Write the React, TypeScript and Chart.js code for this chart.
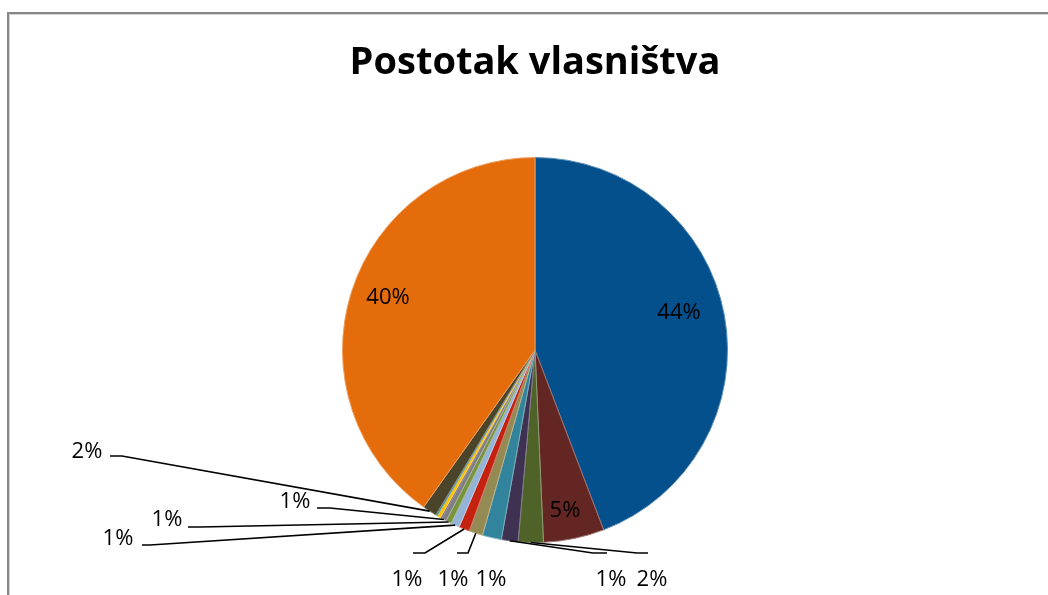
import React, { useEffect, useRef } from "react";
import { Chart, registerables } from "chart.js";

Chart.register(...registerables);

const TITLE = "Postotak vlasništva";

const categories = [
  "Vlasnik 1", "Vlasnik 2", "Vlasnik 3", "Vlasnik 4", "Vlasnik 5",
  "Vlasnik 6", "Vlasnik 7", "Vlasnik 8", "Vlasnik 9", "Vlasnik 10",
  "Vlasnik 11", "Vlasnik 12", "Vlasnik 13", "Vlasnik 14", "Vlasnik 15",
];

const shares = [44.2, 5.1, 2.1, 1.4, 1.6, 1.15, 0.9, 0.72, 0.47, 0.42, 0.12, 0.3, 0.14, 1.2, 40.18];

const dataLabels = ["44%", "5%", "2%", "1%", "1%", "1%", "1%", "1%", "1%", "1%", "", "", "", "2%", "40%"];

const sliceColors = [
  "#03508C", "#632623", "#4F6228", "#3F3151", "#31849B",
  "#948A54", "#C4220F", "#95B3D7", "#77933C", "#7F7F7F",
  "#604A7B", "#FFC000", "#31859C", "#4A452A", "#E46C0A",
];

// label placement (layout only): pixel offsets from the pie centre
const labelLayout: Record<number, { text: [number, number]; elbow?: [number, number]; end?: [number, number] }> = {
  0: { text: [144, -37] },
  1: { text: [30, 161] },
  14: { text: [-147, -52] },
  2: { text: [117, 230], elbow: [102, 203], end: [113, 203] },
  3: { text: [76, 230], elbow: [58, 203], end: [72, 203] },
  4: { text: [-44, 230] },
  5: { text: [-82, 230], elbow: [-67, 203], end: [-78, 203] },
  6: { text: [-128, 230], elbow: [-110, 203], end: [-122, 203] },
  7: { text: [-417, 189], elbow: [-385, 195], end: [-393, 195] },
  8: { text: [-368, 170], elbow: [-335, 177], end: [-347, 177] },
  9: { text: [-240, 152], elbow: [-205, 158], end: [-218, 158] },
  13: { text: [-448, 102], elbow: [-413, 106], end: [-425, 106] },
};

function lighten(hex: string, amt: number) {
  const n = parseInt(hex.slice(1), 16);
  const r = (n >> 16) & 255, g = (n >> 8) & 255, b = n & 255;
  const f = (c: number) => Math.round(c + (255 - c) * amt);
  return `rgb(${f(r)},${f(g)},${f(b)})`;
}

const labelPlugin = {
  id: "pieLabels",
  afterDatasetsDraw(chart: any) {
    const ctx = chart.ctx as CanvasRenderingContext2D;
    const meta = chart.getDatasetMeta(0);
    ctx.save();
    ctx.font = '22px "Open Sans"';
    ctx.fillStyle = "#000";
    ctx.strokeStyle = "#000";
    ctx.lineWidth = 1.6;
    ctx.textAlign = "center";
    ctx.textBaseline = "middle";
    meta.data.forEach((arc: any, i: number) => {
      const text = dataLabels[i];
      if (!text) return;
      const lay = labelLayout[i];
      if (!lay) return;
      const { x, y, startAngle, endAngle, outerRadius } = arc.getProps(
        ["x", "y", "startAngle", "endAngle", "outerRadius"],
        true
      );
      const mid = (startAngle + endAngle) / 2;
      if (lay.elbow && lay.end) {
        ctx.beginPath();
        ctx.moveTo(x + Math.cos(mid) * outerRadius, y + Math.sin(mid) * outerRadius);
        ctx.lineTo(x + lay.elbow[0], y + lay.elbow[1]);
        ctx.lineTo(x + lay.end[0], y + lay.end[1]);
        ctx.stroke();
      }
      ctx.fillText(text, x + lay.text[0], y + lay.text[1]);
    });
    ctx.restore();
  },
};

export default function App() {
  const canvasRef = useRef<HTMLCanvasElement | null>(null);

  useEffect(() => {
    const canvas = canvasRef.current;
    if (!canvas) return;
    const chart = new Chart(canvas, {
      type: "pie",
      data: {
        labels: categories,
        datasets: [
          {
            data: shares,
            backgroundColor: sliceColors,
            borderColor: sliceColors.map((c) => lighten(c, 0.35)),
            borderWidth: 1,
          },
        ],
      },
      options: {
        responsive: false,
        animation: false,
        layout: { padding: { left: 22, right: 0, top: 0, bottom: 52 } },
        plugins: {
          legend: { display: false },
          tooltip: { enabled: false },
          title: {
            display: true,
            text: TITLE,
            color: "#000",
            font: { family: '"Open Sans"', size: 38, weight: "bold", lineHeight: 1.2 },
            padding: { top: 40.5, bottom: 70.9 },
          },
        },
      },
      plugins: [labelPlugin],
    });
    return () => chart.destroy();
  }, []);

  return (
    <div style={{ position: "fixed", inset: 0, overflow: "hidden", background: "#fff" }}>
      <div
        style={{
          position: "absolute",
          left: 7,
          top: 12,
          width: 1200,
          height: 800,
          borderTop: "2px solid #878787",
          borderLeft: "2px solid #878787",
          boxShadow: "inset 1px 1px 0 #d4d4d4",
        }}
      />
      <canvas
        ref={canvasRef}
        width={1048}
        height={595}
        style={{ position: "absolute", left: 0, top: 0 }}
      />
    </div>
  );
}
